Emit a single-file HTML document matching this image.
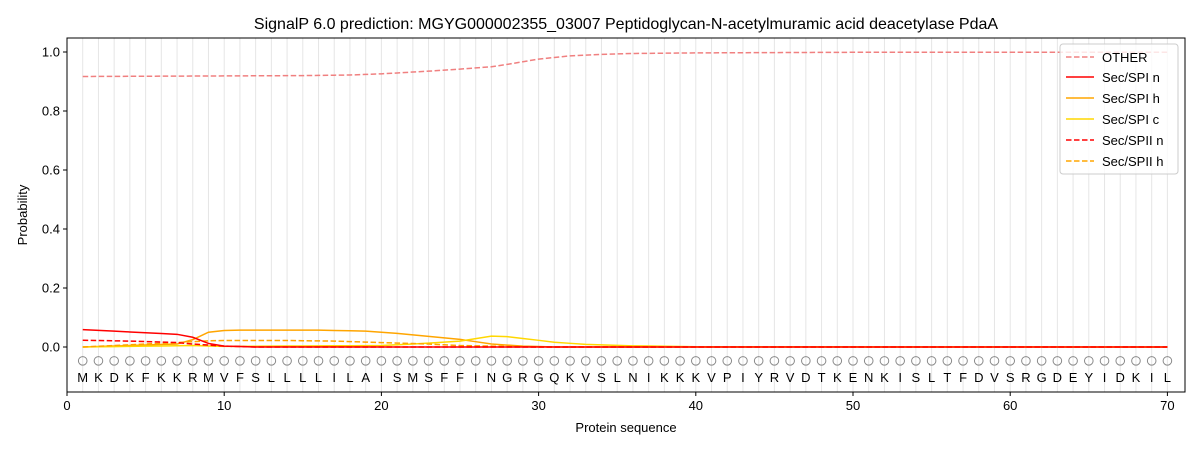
<!DOCTYPE html>
<html><head><meta charset="utf-8"><style>body{margin:0;background:#fff}svg{font-family:"Liberation Sans","DejaVu Sans",sans-serif}</style></head>
<body>
<svg id="s" width="1200" height="450" xmlns="http://www.w3.org/2000/svg">
<rect width="1200" height="450" fill="#fff"/>
<text x="626" y="29" font-size="16" text-anchor="middle">SignalP 6.0 prediction: MGYG000002355_03007 Peptidoglycan-N-acetylmuramic acid deacetylase PdaA</text>
<g id="g"></g>
<rect x="67" y="38" width="1118" height="354" fill="none" stroke="#000" stroke-width="1"/>
<text x="626" y="432" font-size="13" text-anchor="middle">Protein sequence</text>
<text transform="translate(27,215) rotate(-90)" font-size="13" text-anchor="middle">Probability</text>
<g transform="translate(1060,44)">
<rect x="0" y="0" width="118" height="130" rx="3" fill="#fff" fill-opacity="0.8" stroke="#ccc"/>
<line x1="6" y1="13" x2="34" y2="13" stroke="#f08080" stroke-width="1.5" stroke-dasharray="5.5,2.5"/><text x="42" y="18" font-size="13">OTHER</text>
<line x1="6" y1="33" x2="34" y2="33" stroke="#f00" stroke-width="1.5"/><text x="42" y="38" font-size="13">Sec/SPI n</text>
<line x1="6" y1="54" x2="34" y2="54" stroke="#ffa500" stroke-width="1.5"/><text x="42" y="59" font-size="13">Sec/SPI h</text>
<line x1="6" y1="75" x2="34" y2="75" stroke="#ffd700" stroke-width="1.5"/><text x="42" y="80" font-size="13">Sec/SPI c</text>
<line x1="6" y1="96" x2="34" y2="96" stroke="#f00" stroke-width="1.5" stroke-dasharray="5.5,2.5"/><text x="42" y="101" font-size="13">Sec/SPII n</text>
<line x1="6" y1="117" x2="34" y2="117" stroke="#ffa500" stroke-width="1.5" stroke-dasharray="5.5,2.5"/><text x="42" y="122" font-size="13">Sec/SPII h</text>
</g>
</svg>
<script>
const NS="http://www.w3.org/2000/svg",g=document.getElementById('g');
const X=v=>67+v*15.72,Y=p=>347-p*295;
function el(t,a,txt){const e=document.createElementNS(NS,t);for(const k in a)e.setAttribute(k,a[k]);if(txt!=null)e.textContent=txt;g.appendChild(e);return e;}
const seq="MKDKFKKRMVFSLLLLILAISMSFFINGRGQKVSLNIKKKVPIYRVDTKENKISLTFDVSRGDEYIDKIL";
for(let i=1;i<=70;i++){el('line',{x1:X(i),x2:X(i),y1:38,y2:392,stroke:'#000','stroke-opacity':0.1,'stroke-width':1});
el('circle',{cx:X(i),cy:Y(-0.047),r:4.3,fill:'none',stroke:'#888','stroke-width':1});
el('text',{x:X(i),y:382,'font-size':13,'text-anchor':'middle'},seq[i-1]);}
for(let v=0;v<=70;v+=10){el('line',{x1:X(v),x2:X(v),y1:392,y2:396,stroke:'#000'});el('text',{x:X(v),y:410,'font-size':13,'text-anchor':'middle'},v);}
for(let k=0;k<=5;k++){const p=k*0.2;el('line',{x1:63,x2:67,y1:Y(p),y2:Y(p),stroke:'#000'});el('text',{x:60,y:Y(p)+4.5,'font-size':13,'text-anchor':'end'},p.toFixed(1));}
function interp(pts){const o=[];for(let i=1;i<=70;i++){let v=pts[pts.length-1][1];for(let j=0;j<pts.length-1;j++){if(i>=pts[j][0]&&i<=pts[j+1][0]){const t=(i-pts[j][0])/(pts[j+1][0]-pts[j][0]);v=pts[j][1]+t*(pts[j+1][1]-pts[j][1]);break;}}o.push([X(i),Y(v)]);}return o.map(p=>p.join(',')).join(' ');}
function line(pts,c,d){const a={points:interp(pts),fill:'none',stroke:c,'stroke-width':1.5};if(d)a['stroke-dasharray']='5.5,2.5';el('polyline',a);}
line([[1,0.917],[15,0.92],[18,0.922],[20,0.926],[23,0.935],[25,0.942],[27,0.95],[28,0.958],[30,0.976],[32,0.987],[34,0.992],[36,0.995],[40,0.997],[50,0.999],[70,0.999]],'#f08080',true);
line([[1,0],[4,0.005],[7,0.01],[8,0.025],[9,0.05],[10,0.056],[11,0.057],[16,0.057],[19,0.054],[21,0.046],[23,0.036],[25,0.026],[27,0.01],[29,0.003],[31,0],[70,0]],'#ffa500',false);
line([[1,0],[8,0.005],[10,0.002],[20,0.005],[22,0.01],[25,0.02],[27,0.037],[28,0.035],[29.5,0.026],[31,0.016],[33,0.009],[36,0.004],[40,0.001],[70,0]],'#ffd700',false);
line([[1,0],[5,0.01],[7,0.015],[9,0.021],[10,0.022],[14,0.022],[17,0.02],[20,0.015],[23,0.01],[25,0.005],[28,0.002],[30,0],[70,0]],'#ffa500',true);
line([[1,0.023],[4,0.02],[7,0.015],[8,0.01],[10,0.003],[12,0],[70,0]],'#f00',true);
line([[1,0.059],[4,0.051],[7,0.043],[8,0.033],[9,0.012],[10,0.003],[12,0],[70,0]],'#f00',false);
</script>
</body></html>
